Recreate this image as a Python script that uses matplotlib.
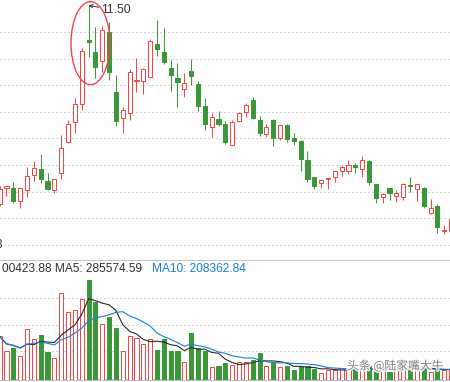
import numpy as np
import pandas as pd
import matplotlib
matplotlib.use("Agg")
import matplotlib.pyplot as plt
from matplotlib.patches import Ellipse
import matplotlib.patheffects as pe

# ---------------- data (daily candles, left to right) ----------------
opens = [7.77, 8.07, 8.07, 7.82, 8.03, 8.31, 8.42, 8.20, 8.03, 8.35,
         8.93, 9.31, 9.65, 10.85, 10.62, 10.45, 11.00, 9.87, 9.38, 9.48,
         10.07, 10.08, 10.15, 10.77, 10.62, 10.32, 10.14, 9.93, 10.27, 10.02,
         9.61, 9.21, 9.36, 9.27, 8.88, 9.33, 9.50, 9.72, 9.35, 9.08,
         9.35, 9.01, 9.25, 9.01, 8.95, 8.59, 8.27, 8.16, 8.23, 8.27,
         8.39, 8.39, 8.50, 8.42, 8.58, 8.14, 7.90, 8.07, 7.92, 7.90,
         8.12, 8.05, 8.07, 7.60, 7.73, 7.25, 7.26]
highs = [8.10, 8.12, 8.18, 8.07, 8.46, 8.58, 8.71, 8.35, 8.24, 9.06,
         9.35, 9.76, 10.70, 11.50, 11.09, 11.11, 11.19, 10.19, 9.59, 10.30,
         10.51, 10.32, 10.86, 11.23, 11.08, 10.47, 10.42, 10.23, 10.49, 10.08,
         9.76, 9.48, 9.51, 9.33, 9.35, 9.50, 9.67, 9.78, 9.42, 9.27,
         9.36, 9.25, 9.27, 9.10, 8.97, 8.76, 8.27, 8.22, 8.26, 8.39,
         8.50, 8.59, 8.54, 8.67, 8.59, 8.14, 7.97, 8.07, 8.03, 8.16,
         8.27, 8.14, 8.09, 7.86, 7.77, 7.37, 7.50]
lows = [7.73, 7.92, 7.79, 7.69, 7.90, 8.20, 8.16, 8.03, 7.97, 8.24,
        8.91, 9.10, 9.53, 10.53, 10.14, 10.25, 10.10, 9.23, 9.10, 9.35,
        9.87, 9.83, 10.14, 10.55, 10.40, 9.89, 9.59, 9.78, 10.00, 9.52,
        9.16, 9.03, 9.23, 8.89, 8.88, 9.31, 9.40, 9.36, 9.05, 9.03,
        8.86, 8.97, 8.93, 8.88, 8.39, 8.18, 8.05, 8.07, 8.05, 8.18,
        8.29, 8.33, 8.35, 8.27, 8.12, 7.79, 7.79, 7.84, 7.80, 7.84,
        7.99, 7.82, 7.69, 7.58, 7.22, 7.20, 7.24]
closes = [8.05, 8.11, 7.82, 8.07, 8.29, 8.44, 8.24, 8.05, 8.24, 8.82,
          9.27, 9.65, 10.64, 10.81, 10.34, 11.04, 10.25, 9.33, 9.53, 10.25,
          10.09, 10.30, 10.83, 10.68, 10.44, 10.19, 10.06, 10.04, 10.17, 9.61,
          9.27, 9.40, 9.27, 8.93, 9.31, 9.48, 9.63, 9.38, 9.10, 9.21,
          9.01, 9.25, 8.99, 8.95, 8.61, 8.24, 8.11, 8.22, 8.26, 8.39,
          8.46, 8.50, 8.47, 8.59, 8.18, 7.88, 7.95, 7.97, 7.97, 8.14,
          8.10, 8.14, 7.73, 7.69, 7.33, 7.28, 7.49]
volumes = [152700, 100800, 110400, 84600, 179800, 144600, 159700, 96300, 77600, 306800,
           239800, 246800, 285600, 350424, 272600, 195000, 219700, 184400, 99800, 156200,
           148100, 124500, 144600, 106800, 142100, 100800, 103300, 61000, 164300, 110400,
           100800, 45800, 46900, 58500, 53900, 61000, 61000, 68100, 93800, 49400,
           61000, 45800, 46900, 32800, 50400, 46900, 38800, 24700, 32800, 35300,
           42300, 32800, 39800, 32800, 46900, 30300, 42300, 28200, 32800, 42300,
           49400, 32800, 46900, 28200, 37400, 32800, 35300]

price_grid = [7.0, 7.5, 8.0, 8.5, 9.0, 9.5, 10.0, 10.5, 11.0]
vol_grid = [101500, 193000, 287000]
peak_index = 13
peak_label = "11.50"
header_left = "00423.88 MA5: 285574.59"
header_ma10 = "MA10: 208362.84"
edge_label = "3"
watermark = "头条 @陆家嘴大牛"

# ---------------- style ----------------
BG = "#fdfdfd"
RED = "#f04848"
GREEN = "#3a983a"
GRID = "#b4b4b4"
TXT = "#333333"
BLUE = "#1a7fd6"
plt.rcParams["font.family"] = ["Liberation Sans", "DejaVu Sans"]

W, H = 450, 382


def rect(x0, y0, x1, y1):
    return [x0 / W, 1 - y1 / H, (x1 - x0) / W, (y1 - y0) / H]


fig = plt.figure(figsize=(W / 100, H / 100), dpi=100, facecolor=BG)
ax = fig.add_axes(rect(0, 0, W, 259))
axv = fig.add_axes(rect(0, 260.3, W, 379.8))

o = np.array(opens); h = np.array(highs); l = np.array(lows); c = np.array(closes)
v = np.array(volumes, dtype=float)
n = len(o)
x = np.arange(n)
up = c >= o
cols = np.where(up, RED, GREEN)
faces = np.where(up, BG, GREEN)

for a in (ax, axv):
    a.set_facecolor(BG)
    a.set_xlim(0.05, 65.84)
    a.set_xticks([]); a.set_yticks([])
    for s in a.spines.values():
        s.set_visible(False)

# price panel
ax.set_ylim(6.733, 11.6015)
for g in price_grid:
    ax.axhline(g, color=GRID, lw=0.72, ls=(0, (1, 3)), zorder=1)
ax.vlines(x, l, h, colors=cols, lw=0.72, zorder=2)
body_bottom = np.minimum(o, c)
body_h = np.maximum(np.abs(c - o), 0.012)
ax.bar(x, body_h, bottom=body_bottom, width=0.6, color=faces,
       edgecolor=cols, linewidth=0.72, zorder=3)

ax.annotate(peak_label, xy=(peak_index, h[peak_index]), xytext=(13, -5),
            textcoords="offset pixels", ha="left", va="center",
            fontsize=8.8, color=TXT,
            arrowprops=dict(arrowstyle="->", color=TXT, lw=0.7,
                            shrinkA=0, shrinkB=0, mutation_scale=6))
ax.add_patch(Ellipse((13.28, 10.79), width=5.70, height=1.56, fill=False,
                     edgecolor=RED, lw=1.0, zorder=5))

# volume panel
axv.set_ylim(0, (379.8 - 260.3) * 3526)
for g in vol_grid:
    axv.axhline(g, color=GRID, lw=0.72, ls=(0, (1, 3)), zorder=1)
axv.bar(x, v, width=0.6, color=faces, edgecolor=cols, linewidth=0.72, zorder=3)
vs = pd.Series(v)
ma5 = vs.rolling(5, min_periods=1).mean()
ma10 = vs.rolling(10, min_periods=1).mean()
axv.plot(x, ma5, color="#2a2a2a", lw=0.8, zorder=4)
axv.plot(x, ma10, color=BLUE, lw=0.8, zorder=4)
axv.spines["top"].set_visible(True)
axv.spines["top"].set_color("#c4c4c4")
axv.spines["top"].set_linewidth(0.72)
axv.spines["bottom"].set_visible(True)
axv.spines["bottom"].set_color("#b8b8b8")
axv.spines["bottom"].set_linewidth(1.2)

# texts
yh = 1 - 269 / H
fig.text(1.7 / W, yh, header_left, fontsize=8.6, color=TXT, ha="left", va="center")
fig.text(151.7 / W, yh, header_ma10, fontsize=8.6, color=BLUE, ha="left", va="center")
fig.text(2.5 / W, 1 - 245 / H, edge_label, fontsize=8.6, color=TXT, ha="right", va="center")
fig.text(347 / W, 1 - 366 / H, watermark, family=["Noto Sans CJK SC", "DejaVu Sans"],
         fontsize=8.5, color="#777777", alpha=0.9, ha="left", va="center",
         path_effects=[pe.withStroke(linewidth=2, foreground="white")], zorder=10)

fig.savefig("out.png", dpi=100, facecolor=BG)
